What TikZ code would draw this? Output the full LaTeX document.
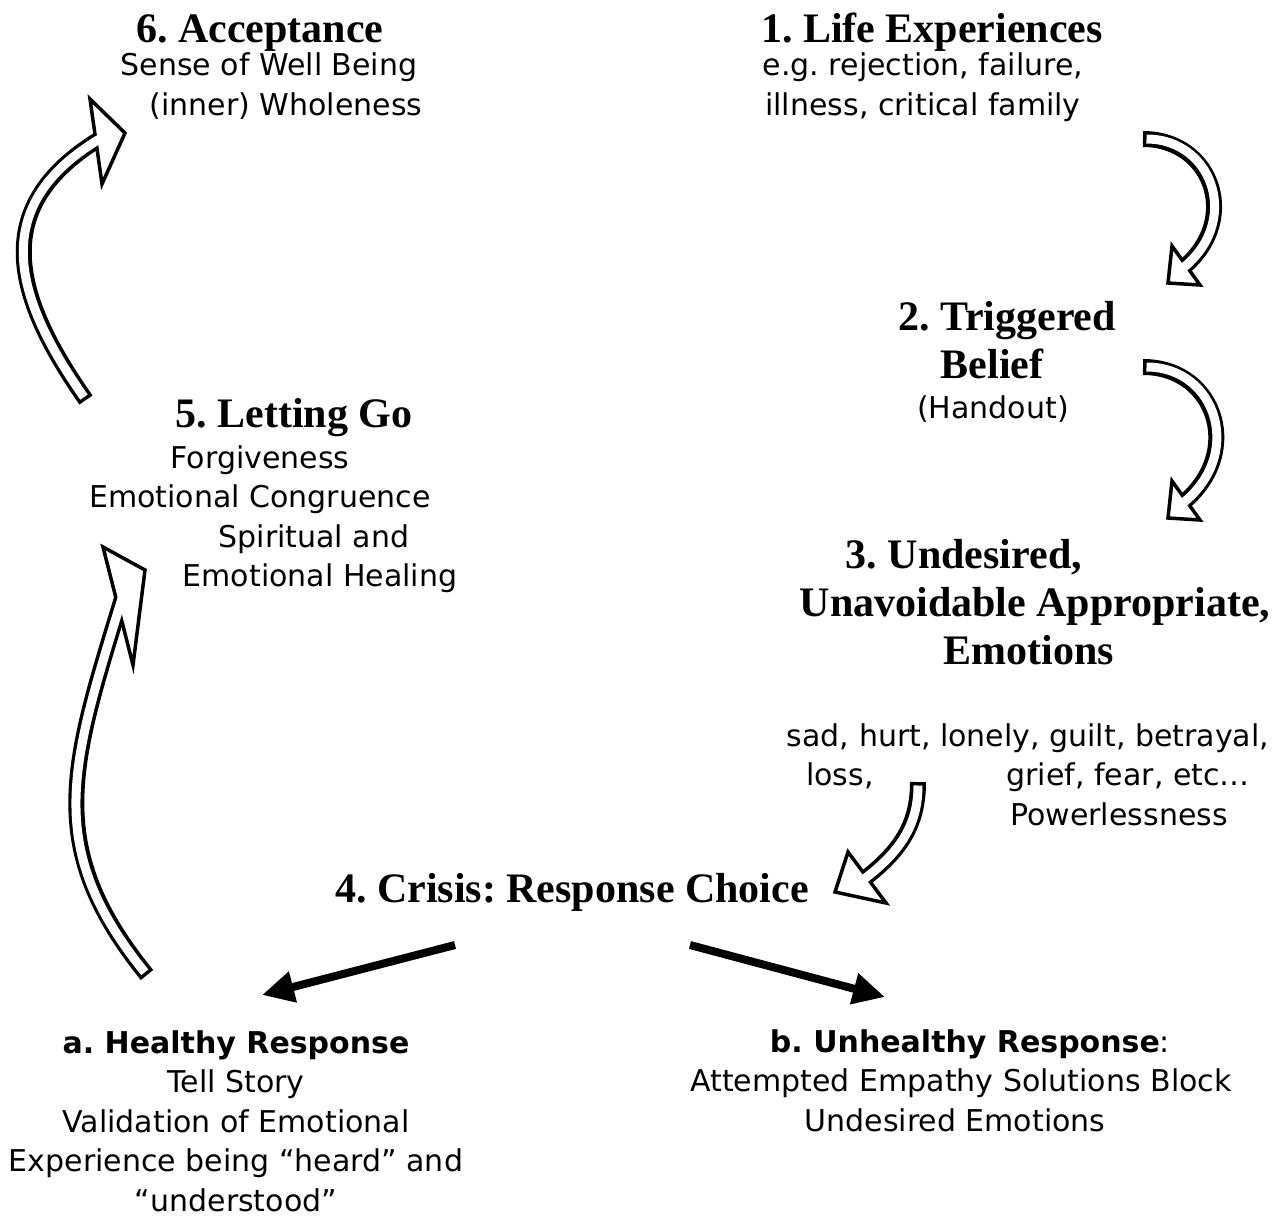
\documentclass[tikz,border=0pt]{standalone}
\usepackage{fontspec}
\setmainfont{Liberation Serif}
\setsansfont{DejaVu Sans}
\usetikzlibrary{arrows.meta, positioning}

% hollow curved arrow: outer band, head, inner band
\newcommand{\holarrow}[3]{%
  \draw[hout] #1;
  \draw[hhead, shift={(#2)}] #3;
  \draw[hin] #1;}

\begin{document}
\frenchspacing
\begin{tikzpicture}[
  x=1pt, y=1pt,
  ttl/.style={font=\fontsize{42}{48}\selectfont\bfseries, inner sep=0pt, align=center},
  bdy/.style={font=\sffamily\fontsize{30}{39.5}\selectfont, inner sep=0pt, align=center},
  hout/.style={draw=black, line width=16pt, shorten >=-11pt},
  hin/.style={draw=white, line width=9pt, shorten <=3.5pt, shorten >=-9pt},
  hhead/.style={draw=black, fill=white, line width=3.5pt, line join=miter},
  choice/.style={draw=black, line width=8pt, -{Triangle[length=32pt,width=30pt]}}
]
\useasboundingbox (0,0) rectangle (1283,-1216);

%--------------------------------------------------------------
% Stadi del ciclo
%--------------------------------------------------------------
\node[ttl, anchor=base] (accept) at (260,-42) {6. Acceptance};
\node[bdy, anchor=north] (acceptb) at (269,-53)
  {Sense of Well Being\\ \hspace*{34pt}(inner) Wholeness};

\node[ttl, anchor=base] (life) at (932,-42) {1. Life Experiences};
\node[bdy, anchor=north] (lifeb) at (923,-53)
  {e.g. rejection, failure,\\ illness, critical family};

\node[ttl, anchor=north] (belief) at (1007,-301)
  {2. Triggered\\ Belief\hspace*{30pt}};
\node[bdy, anchor=base] (beliefb) at (993,-418) {(Handout)};

\node[ttl, anchor=north] (emot) at (1035,-539)
  {3. Undesired,\hspace*{142pt}\\ Unavoidable Appropriate,\\ Emotions\hspace*{12pt}};
\node[bdy, anchor=north] (emotb) at (1028,-723)
  {sad, hurt, lonely, guilt, betrayal,\\ loss,\hspace*{133pt}grief, fear, etc…\hspace*{26pt}\\ \hspace*{182pt}Powerlessness};

\node[ttl, anchor=base] (crisis) at (572,-902) {4. Crisis: Response Choice};

\node[bdy, anchor=north] (healthy) at (236,-1030)
  {\textbf{a. Healthy Response}\\ Tell Story\\ Validation of Emotional\\ Experience being “heard” and\\ “understood”};
\node[bdy, anchor=north] (unhealthy) at (961,-1029)
  {\hspace*{18pt}\textbf{b. Unhealthy Response}:\\ Attempted Empathy Solutions Block\\ Undesired Emotions\hspace*{12pt}};

\node[ttl, anchor=base] (letgo) at (294,-427) {5. Letting Go};
\node[bdy, anchor=north] (letgob) at (260,-445)
  {Forgiveness\\ Emotional Congruence\\ \hspace*{108pt}Spiritual and\\ \hspace*{120pt}Emotional Healing};

%--------------------------------------------------------------
% Estremi delle frecce
%--------------------------------------------------------------
\coordinate (p12s) at (1143,-139);  \coordinate (p12e) at (1186,-266);
\coordinate (p23s) at (1143,-367);  \coordinate (p23e) at (1186,-501);
\coordinate (p34s) at (918,-782);   \coordinate (p34e) at (867,-877);
\coordinate (p56s) at (86,-400);    \coordinate (p56e) at (96,-141);
\coordinate (pa5s) at (147,-975);   \coordinate (pa5e) at (120,-605);
\coordinate (cl) at (455,-945);     \coordinate (hl) at (262,-995);
\coordinate (cr) at (690,-945);     \coordinate (ur) at (885,-997);

%--------------------------------------------------------------
% Frecce vuote
%--------------------------------------------------------------
\holarrow{(p12s) to[out=0, in=36, looseness=1.35] (p12e)}{p12e}
  {(-14,20) -- (-18,-17) -- (14,-19) -- cycle}
\holarrow{(p23s) to[out=0, in=36, looseness=1.35] (p23e)}{p23e}
  {(-14,20) -- (-18,-17) -- (14,-19) -- cycle}
\holarrow{(p34s) to[out=270, in=36] (p34e)}{p34e}
  {(-19,25) -- (-32,-15) -- (19,-26) -- cycle}
\holarrow{(p56s) to[out=125, in=210, looseness=1.25] (p56e)}{p56e}
  {(-6,42) -- (29,8) -- (6,-43) -- cycle}
\holarrow{(pa5s) to[out=129, in=253, looseness=1.15] (pa5e)}{pa5e}
  {(-17,58) -- (25,35) -- (13,-60) -- cycle}

%--------------------------------------------------------------
% Scelta della risposta
%--------------------------------------------------------------
\draw[choice] (cl) -- (hl);
\draw[choice] (cr) -- (ur);

\end{tikzpicture}
\end{document}
